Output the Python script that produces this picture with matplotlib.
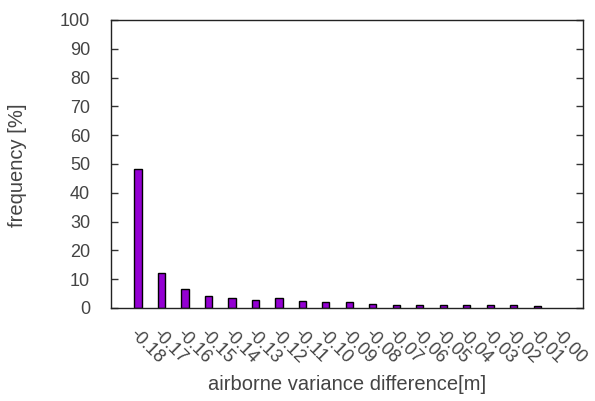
import numpy as np
import matplotlib.pyplot as plt

plt.rcParams['font.family'] = ['Liberation Sans', 'DejaVu Sans']

# histogram of airborne variance difference
labels = ['-0.18', '-0.17', '-0.16', '-0.15', '-0.14', '-0.13', '-0.12',
          '-0.11', '-0.10', '-0.09', '-0.08', '-0.07', '-0.06', '-0.05',
          '-0.04', '-0.03', '-0.02', '-0.01', '-0.00']
freq = [48.2, 12.3, 6.5, 4.3, 3.4, 2.8, 3.4, 2.4, 2.0, 2.0, 1.5,
        1.0, 1.0, 1.0, 1.0, 1.0, 1.0, 0.7, 0.0]

x = np.arange(len(labels))

fig = plt.figure(figsize=(5.95, 4.01), dpi=100)
ax = fig.add_axes([111/595, 1 - 308/401, 472/595, 288/401])

bars = ax.bar(x, freq, width=0.3, color='#9400d3', edgecolor='black', linewidth=1.0)
for b, v in zip(bars, freq):
    if v == 0:
        b.set_visible(False)

ax.set_xlim(-1.15, 18.94)
ax.set_ylim(0, 100)
ax.set_yticks(np.arange(0, 101, 10))
ax.tick_params(axis='y', direction='in', right=True, length=5, width=1,
               labelsize=13, colors='#333333', labelcolor='#444444', pad=15)
ax.set_xticks(x)
ax.set_xticklabels(labels, rotation=-45, ha='left', va='top',
                   rotation_mode='anchor', fontsize=13, color='#444444')
ax.tick_params(axis='x', length=0, pad=13)
for s in ax.spines.values():
    s.set_linewidth(1.0)
    s.set_color('#222222')

fig.text(18/595, 1 - 165/401, 'frequency [%]', rotation=90,
         ha='center', va='center', fontsize=14.5, color='#444444')
fig.text(347/595, 1 - 385/401, 'airborne variance difference[m]',
         ha='center', va='center', fontsize=14.5, color='#444444')

fig.savefig('out.png', dpi=100)
